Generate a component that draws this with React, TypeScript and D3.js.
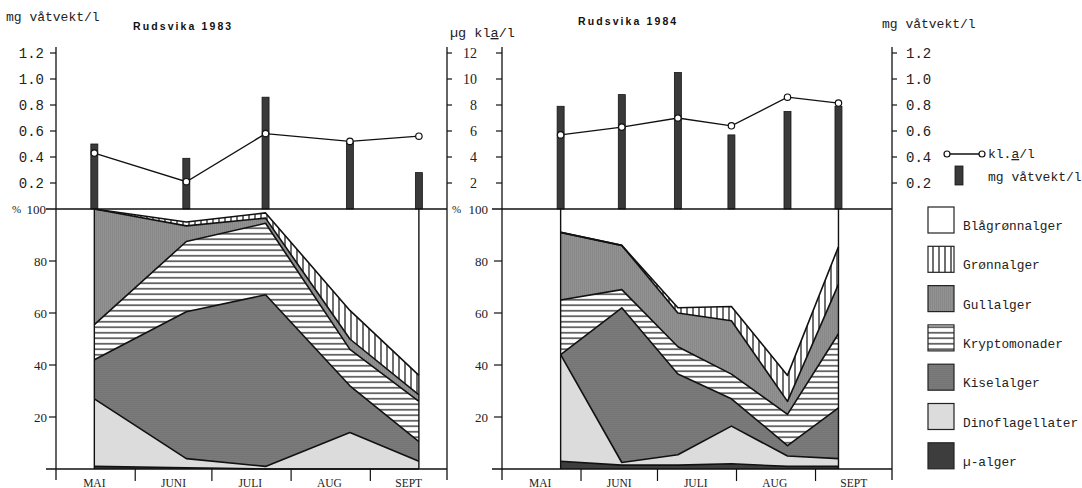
import React from "react";
import * as d3 from "d3";

// ---------- data ----------
const stackKeys = ["mu", "dino", "kisel", "krypto", "gull", "gronn", "bla"];
const legendKeys = ["bla", "gronn", "gull", "krypto", "kisel", "dino", "mu"];
const legendNames = ["Blågrønnalger", "Grønnalger", "Gullalger", "Kryptomonader", "Kiselalger", "Dinoflagellater", "µ-alger"];
const monthNames = ["MAI", "JUNI", "JULI", "AUG", "SEPT"];
const mgTicks = [0.2, 0.4, 0.6, 0.8, 1.0, 1.2];
const chlTicks = [2, 4, 6, 8, 10, 12];
const pctTicks = [20, 40, 60, 80];

const dates1983 = ["1983-05-16", "1983-06-21", "1983-07-22", "1983-08-24", "1983-09-20"];
const biomass1983 = [0.5, 0.39, 0.86, 0.52, 0.28];
const chla1983 = [4.3, 2.1, 5.8, 5.2, 5.6];
const mu1983 = [1, 0.5, 0, 0, 0];
const dino1983 = [26, 3.5, 1, 14, 3];
const kisel1983 = [15, 56.5, 66, 18, 7.5];
const krypto1983 = [13.5, 27, 27.5, 14, 15.5];
const gull1983 = [44.5, 6, 2, 4, 2.5];
const gronn1983 = [0, 1.5, 2, 11, 7.5];
const bla1983 = [0, 5, 1.5, 39, 64];

const dates1984 = ["1984-05-24", "1984-06-17", "1984-07-09", "1984-07-30", "1984-08-21", "1984-09-10"];
const biomass1984 = [0.79, 0.88, 1.05, 0.57, 0.75, 0.79];
const chla1984 = [5.7, 6.3, 7.0, 6.4, 8.6, 8.15];
const mu1984 = [3, 1.5, 1.5, 2, 1, 1];
const dino1984 = [41, 1, 4, 14.5, 4, 3];
const kisel1984 = [0, 59.5, 31, 10.5, 4, 19.5];
const krypto1984 = [21, 7, 10.5, 9.5, 12, 28.5];
const gull1984 = [26, 17, 13, 20.5, 5, 19];
const gronn1984 = [0, 0, 2, 5.5, 10, 14.5];
const bla1984 = [9, 14, 38, 37.5, 64, 14.5];

// ---------- layout ----------
const Y_BASE = 209;
const Y_MG_TOP = 53;
const Y_PCT0 = 469;
const mono = "'Liberation Mono', 'DejaVu Sans Mono', monospace";
const serif = "'Liberation Serif', 'DejaVu Serif', serif";

const fills: Record<string, string> = {
  mu: "#3d3d3d",
  dino: "#dcdcdc",
  kisel: "url(#pat-kisel)",
  krypto: "url(#pat-krypto)",
  gull: "url(#pat-gull)",
  gronn: "url(#pat-gronn)",
  bla: "#ffffff",
};

const yMg = d3.scaleLinear().domain([0, 1.2]).range([Y_BASE, Y_MG_TOP]);
const yChl = d3.scaleLinear().domain([0, 12]).range([Y_BASE, Y_MG_TOP]);
const yPct = d3.scaleLinear().domain([0, 100]).range([Y_PCT0, Y_BASE]);
const parse = d3.timeParse("%Y-%m-%d");

function buildRows(dates: string[], series: Record<string, number[]>) {
  return dates.map((d, i) => {
    const r: any = { date: parse(d) };
    stackKeys.forEach((k) => (r[k] = series[k][i]));
    return r;
  });
}

function Panel(props: {
  year: number;
  x0: number;
  x1: number;
  dates: string[];
  biomass: number[];
  chla: number[];
  series: Record<string, number[]>;
}) {
  const { year, x0, x1, dates, biomass, chla, series } = props;
  const x = d3.scaleTime().domain([new Date(year, 4, 1), new Date(year, 9, 1)]).range([x0, x1]);
  const rows = buildRows(dates, series);
  const stacked = d3.stack<any>().keys(stackKeys)(rows);
  const area = d3
    .area<any>()
    .x((d) => x(d.data.date))
    .y0((d) => yPct(d[0]))
    .y1((d) => yPct(d[1]));
  const topLine = d3
    .line<any>()
    .x((d) => x(d.data.date))
    .y((d) => yPct(d[1]));
  const chlLine = d3
    .line<number>()
    .x((_, i) => x(rows[i].date))
    .y((v) => yChl(v));
  const monthStarts = d3.range(5, 10).map((m) => new Date(year, m, 1));
  const monthMids = d3.range(4, 9).map((m) => new Date(year, m, 16));
  const first = x(rows[0].date);
  const last = x(rows[rows.length - 1].date);

  return (
    <g>
      {stacked.map((layer) => (
        <path key={layer.key} d={area(layer) || ""} fill={fills[layer.key]} stroke="none" />
      ))}
      {stacked.slice(0, stackKeys.length - 1).map((layer) => (
        <path key={"l" + layer.key} d={topLine(layer) || ""} fill="none" stroke="#111" strokeWidth={1.6} strokeLinejoin="round" />
      ))}
      <line x1={first} x2={first} y1={yPct(0)} y2={yPct(100)} stroke="#111" strokeWidth={1.4} />
      <line x1={last} x2={last} y1={yPct(0)} y2={yPct(100)} stroke="#111" strokeWidth={1.4} />
      {/* bars */}
      {rows.map((r, i) => (
        <rect
          key={"b" + i}
          x={x(r.date) - 3.5}
          y={yMg(biomass[i])}
          width={7}
          height={Y_BASE - yMg(biomass[i])}
          fill="#3a3a3a"
          stroke="#151515"
          strokeWidth={0.8}
        />
      ))}
      <path d={chlLine(chla) || ""} fill="none" stroke="#111" strokeWidth={1.3} />
      {rows.map((r, i) => (
        <circle key={"c" + i} cx={x(r.date)} cy={yChl(chla[i])} r={3.2} fill="#fff" stroke="#111" strokeWidth={1.2} />
      ))}
      {/* frame */}
      <line x1={x0 - 10} x2={x1} y1={Y_BASE} y2={Y_BASE} stroke="#111" strokeWidth={1.4} />
      <line x1={x0 - 10} x2={x1} y1={Y_PCT0} y2={Y_PCT0} stroke="#111" strokeWidth={1.4} />
      <line x1={x0} x2={x0} y1={47} y2={480} stroke="#111" strokeWidth={1.3} />
      <line x1={x1} x2={x1} y1={47} y2={480} stroke="#111" strokeWidth={1.3} />
      {monthStarts.slice(0, 4).map((d, i) => (
        <line key={"mt" + i} x1={x(d)} x2={x(d)} y1={Y_PCT0} y2={Y_PCT0 + 12} stroke="#111" strokeWidth={1.2} />
      ))}
      {monthMids.map((d, i) => (
        <text key={"mn" + i} x={x(d)} y={487} textAnchor="middle" fontFamily={serif} fontSize={11.5} fill="#222">
          {monthNames[i]}
        </text>
      ))}
    </g>
  );
}

function Legend() {
  const bx = 928;
  const top = 207;
  const step = 39.3;
  return (
    <g>
      <line x1={947} x2={982} y1={154} y2={154} stroke="#111" strokeWidth={1.3} />
      <circle cx={947} cy={154} r={3} fill="#fff" stroke="#111" strokeWidth={1.2} />
      <circle cx={982} cy={154} r={3} fill="#fff" stroke="#111" strokeWidth={1.2} />
      <text x={988} y={158} fontFamily={mono} fontSize={13} fill="#222">
        kl.<tspan textDecoration="underline">a</tspan>/l
      </text>
      <rect x={955} y={166} width={8} height={19} fill="#3a3a3a" stroke="#151515" strokeWidth={0.8} />
      <text x={988} y={181} fontFamily={mono} fontSize={13} fill="#222">
        mg våtvekt/l
      </text>
      {legendKeys.map((k, i) => (
        <g key={k}>
          <rect x={bx} y={top + i * step} width={26} height={26} fill={fills[k]} stroke="#222" strokeWidth={1.2} />
          <text x={963} y={top + i * step + 23} fontFamily={mono} fontSize={12.8} fill="#222">
            {legendNames[i]}
          </text>
        </g>
      ))}
    </g>
  );
}

export default function App() {
  const fmt = d3.format(".1f");
  const s1983 = { mu: mu1983, dino: dino1983, kisel: kisel1983, krypto: krypto1983, gull: gull1983, gronn: gronn1983, bla: bla1983 };
  const s1984 = { mu: mu1984, dino: dino1984, kisel: kisel1984, krypto: krypto1984, gull: gull1984, gronn: gronn1984, bla: bla1984 };
  const LX0 = 56, LX1 = 447, RX0 = 502, RX1 = 892;
  const titleFont = "'Liberation Sans', Arial, sans-serif";
  return (
    <svg width={1082} height={488} style={{ position: "absolute", left: 0, top: 0, background: "#fff" }}>
      <defs>
        <pattern id="pat-gronn" patternUnits="userSpaceOnUse" width={6} height={10}>
          <rect width={6} height={10} fill="#fff" />
          <line x1={3} x2={3} y1={0} y2={10} stroke="#222" strokeWidth={1.3} />
        </pattern>
        <pattern id="pat-gull" patternUnits="userSpaceOnUse" width={2} height={4}>
          <rect width={2} height={4} fill="#929292" />
          <line x1={0.5} x2={0.5} y1={0} y2={4} stroke="#828282" strokeWidth={0.6} />
        </pattern>
        <pattern id="pat-krypto" patternUnits="userSpaceOnUse" width={10} height={5.5}>
          <rect width={10} height={5.5} fill="#fff" />
          <line x1={0} x2={10} y1={2.75} y2={2.75} stroke="#333" strokeWidth={1.4} />
        </pattern>
        <pattern id="pat-kisel" patternUnits="userSpaceOnUse" width={4} height={2}>
          <rect width={4} height={2} fill="#7b7b7b" />
          <line x1={0} x2={4} y1={0.5} y2={0.5} stroke="#707070" strokeWidth={0.6} />
        </pattern>
      </defs>

      <Panel year={1983} x0={LX0} x1={LX1} dates={dates1983} biomass={biomass1983} chla={chla1983} series={s1983} />
      <Panel year={1984} x0={RX0} x1={RX1} dates={dates1984} biomass={biomass1984} chla={chla1984} series={s1984} />

      {/* left axis of 1983 */}
      {mgTicks.map((t) => (
        <g key={"lm" + t}>
          <line x1={LX0 - 6} x2={LX0} y1={yMg(t)} y2={yMg(t)} stroke="#111" strokeWidth={1.2} />
          <text x={44} y={yMg(t) + 5} textAnchor="end" fontFamily={mono} fontSize={14} fill="#222">{fmt(t)}</text>
        </g>
      ))}
      {pctTicks.map((t) => (
        <g key={"lp" + t}>
          <line x1={LX0 - 7} x2={LX0} y1={yPct(t)} y2={yPct(t)} stroke="#111" strokeWidth={1.2} />
          <text x={47} y={yPct(t) + 4.5} textAnchor="end" fontFamily={serif} fontSize={13} fill="#222">{t}</text>
        </g>
      ))}
      <text x={12} y={Y_BASE + 4} fontFamily={serif} fontSize={11} fill="#222">%</text>
      <text x={46} y={Y_BASE + 4.5} textAnchor="end" fontFamily={serif} fontSize={13} fill="#222">100</text>

      {/* right axis of 1983 (chl) and left axis of 1984 */}
      {chlTicks.map((t) => (
        <g key={"rc" + t}>
          <line x1={LX1} x2={LX1 + 5} y1={yChl(t)} y2={yChl(t)} stroke="#111" strokeWidth={1.2} />
          <line x1={RX0 - 6} x2={RX0} y1={yChl(t)} y2={yChl(t)} stroke="#111" strokeWidth={1.2} />
          <text x={477} y={yChl(t) + 5} textAnchor="end" fontFamily={serif} fontSize={14} fill="#222">{t}</text>
        </g>
      ))}
      {pctTicks.map((t) => (
        <g key={"rp" + t}>
          <line x1={RX0 - 8} x2={RX0} y1={yPct(t)} y2={yPct(t)} stroke="#111" strokeWidth={1.2} />
          <text x={488} y={yPct(t) + 4.5} textAnchor="end" fontFamily={serif} fontSize={13} fill="#222">{t}</text>
        </g>
      ))}
      <text x={452} y={Y_BASE + 4} fontFamily={serif} fontSize={11} fill="#222">%</text>
      <text x={488} y={Y_BASE + 4.5} textAnchor="end" fontFamily={serif} fontSize={13} fill="#222">100</text>

      {/* right axis of 1984 */}
      {mgTicks.map((t) => (
        <g key={"rm" + t}>
          <line x1={RX1} x2={RX1 + 5} y1={yMg(t)} y2={yMg(t)} stroke="#111" strokeWidth={1.2} />
          <text x={906} y={yMg(t) + 5} fontFamily={mono} fontSize={14} fill="#222">{fmt(t)}</text>
        </g>
      ))}

      {/* axis titles and panel titles */}
      <text x={6} y={21} fontFamily={mono} fontSize={13} fill="#222">mg våtvekt/l</text>
      <text x={882} y={28} fontFamily={mono} fontSize={13} fill="#222">mg våtvekt/l</text>
      <text x={450} y={37} fontFamily={mono} fontSize={13.5} fill="#222">
        µg kl<tspan textDecoration="underline">a</tspan>/l
      </text>
      <text x={133} y={30} fontFamily={titleFont} fontWeight={900} fontSize={10.5} letterSpacing={2.1} fill="#111">
        Rudsvika 1983
      </text>
      <text x={578} y={25} fontFamily={titleFont} fontWeight={900} fontSize={10.5} letterSpacing={2.1} fill="#111">
        Rudsvika 1984
      </text>

      <Legend />
    </svg>
  );
}
